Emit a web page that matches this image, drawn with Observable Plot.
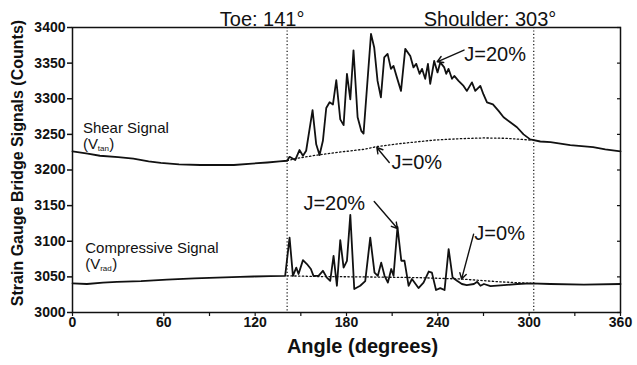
<!DOCTYPE html>
<html><head><meta charset="utf-8">
<script src="https://cdn.jsdelivr.net/npm/d3@7"></script>
<script src="https://cdn.jsdelivr.net/npm/@observablehq/plot@0.6"></script>
<style>
body{margin:0;background:#fff}
svg g[aria-label="y-axis tick label"], svg g[aria-label="x-axis tick label"] {font-weight:bold;font-size:14px}
</style>
</head><body><div id="chart"></div>
<script>
// Shear signal, J=20% (solid)
const shearAngle = [0,10,18,30,40,50,58,70,84,95,106,118,128,136,141,142.6,146.3,149.1,151.4,153.5,157.7,160.1,162.3,164.5,166.7,168.9,171.1,173.3,175.9,178.1,180.3,182.5,184.6,187.3,189.7,191.2,196.1,198.2,200.4,202.6,204.8,207,209.2,210.9,213.1,215.8,218.6,221.9,224,225.8,228,229.6,231.7,233.5,235,237.6,239.8,241.6,244.2,245.5,247,249.3,250.8,253.6,256.9,259.1,262.4,264.6,267.9,270,272.3,276.2,279.9,283.2,287.6,292,296.3,300.7,307.3,314,327,342,350,360];
const shearValue = [3226,3223,3220,3218,3216,3212,3210,3208,3207,3207,3207,3209,3210.5,3212,3213,3218.5,3214,3228,3220,3227,3284,3236,3221,3241,3287,3295,3292,3326,3271,3263,3335,3299,3368,3274,3255,3251,3391,3372,3325,3302,3358,3363,3342,3346,3330,3311,3370,3360,3344,3349,3335,3342,3328,3349,3321,3353,3337,3351,3344,3335,3342,3328,3332,3325,3318,3311,3323,3311,3318,3306,3295,3292,3283,3274,3267,3260,3250,3243,3240,3239,3235,3232,3229,3226];
// Shear signal, J=0% (dotted)
const shearZeroAngle = [141,146.3,160.8,175,191.2,200.2,215,237.4,255,270.3,285,301];
const shearZeroValue = [3213,3216,3221,3225,3229,3233,3237,3242,3244,3245,3244.5,3242];
// Compressive signal, J=20% (solid)
const compAngle = [0,9.5,20,29.2,45,62,80,94.9,110,119,130,139.7,142.6,144.8,147,148.5,151.4,154,156.6,158.3,161.6,164.5,167.1,169.3,171.5,173.7,175.9,178.1,180.3,182.5,185.1,189,192.3,195.6,198.4,200.6,202.8,205,207.2,209.4,210.9,213.5,216,218.1,220.8,223,227.3,230.6,234,236.1,238.8,241.6,244.4,247.1,249.7,252.6,255.8,259,263.7,265.9,268,270.3,274.6,283.4,292.2,300.9,314,336,360];
const compValue = [3041,3040,3042,3043,3044,3046,3048,3049,3050,3050.5,3051,3051.5,3105,3051.5,3063,3054,3073.5,3068,3061,3051.5,3051.5,3058.5,3049,3044.5,3079.6,3037.5,3101.6,3063,3072.6,3137,3033,3037.5,3044,3105,3056,3051.5,3070,3051.5,3042,3061,3051.5,3120,3072.6,3072.6,3037.5,3047,3034.3,3042,3057.5,3056,3031.5,3034.3,3031.5,3089,3049,3044.5,3040,3038.4,3040,3043,3037.5,3040,3037,3038.4,3040,3041,3040,3039,3040];
// Compressive signal, J=0% (dotted)
const compZeroAngle = [141,160.8,190,226.4,255,281.2,301];
const compZeroValue = [3051.5,3050.5,3050,3049,3047,3043,3041];

const markerAngles = [141, 303];
const xTicks = d3.range(0, 361, 30);
const yTicks = d3.range(3000, 3401, 50);

// Annotation texts and anchors (data units)
const topLabels = ["Toe: 141\u00b0", "Shoulder: 303\u00b0"];
const topLabelX = [152.4, 317.8];
const topLabelY = [3402.4, 3402.4];

const noteLabels = ["Shear Signal", "(V", ")", "Compressive Signal", "(V", ")"];
const noteX = [6.84, 6.84, 24.1, 8.35, 8.35, 26.1];
const noteY = [3252.2, 3229.8, 3229.8, 3083.8, 3061.3, 3061.3];

const subLabels = ["tan", "rad"];
const subX = [16.57, 18.2];
const subY = [3226.9, 3057.8];

const jLabels = ["J=20%", "J=0%", "J=20%", "J=0%"];
const jX = [257.4, 209.6, 151.7, 264.0];
const jY = [3353.3, 3201.7, 3144.1, 3102.0];

const arrowX1 = [257.2, 208.1, 198.2, 263.5];
const arrowY1 = [3368.3, 3210.5, 3155.8, 3110.0];
const arrowX2 = [239.6, 199.9, 213.5, 255.6];
const arrowY2 = [3351.9, 3231.6, 3117.9, 3046.9];

const zip = (xs, ys) => xs.map((a, i) => ({a, v: ys[i]}));
const shear = zip(shearAngle, shearValue);
const shearZero = zip(shearZeroAngle, shearZeroValue);
const comp = zip(compAngle, compValue);
const compZero = zip(compZeroAngle, compZeroValue);
const tops = topLabels.map((t, i) => ({t, x: topLabelX[i], y: topLabelY[i]}));
const notes = noteLabels.map((t, i) => ({t, x: noteX[i], y: noteY[i]}));
const subs = subLabels.map((t, i) => ({t, x: subX[i], y: subY[i]}));
const jl = jLabels.map((t, i) => ({t, x: jX[i], y: jY[i]}));
const arrows = arrowX1.map((d, i) => ({x1: d, y1: arrowY1[i], x2: arrowX2[i], y2: arrowY2[i]}));

const ink = "#111";
const chart = Plot.plot({
  width: 637, height: 365,
  marginLeft: 72, marginRight: 17, marginTop: 27, marginBottom: 53,
  x: {domain: [0, 360]},
  y: {domain: [3000, 3400]},
  style: {fontFamily: "'Liberation Sans', Arial, sans-serif", color: ink, background: "#fff", overflow: "visible"},
  marks: [
    Plot.ruleX(markerAngles, {stroke: ink, strokeDasharray: "1.2,2.2", strokeWidth: 1.2}),
    Plot.frame({stroke: ink, strokeWidth: 1.5}),
    Plot.axisY({anchor: "left", ticks: yTicks, tickSize: 5, tickPadding: 2, fontSize: 14, fontWeight: "bold", tickFormat: d => String(d), label: null, strokeWidth: 1.5}),
    Plot.axisY({anchor: "right", ticks: yTicks, tickSize: -4, tickFormat: () => "", label: null, strokeWidth: 1.2}),
    Plot.axisX({ticks: xTicks, tickSize: 4, tickPadding: 1, fontSize: 14, fontWeight: "bold", tickFormat: d => d % 60 === 0 ? String(d) : "", label: null, strokeWidth: 1.2}),
    Plot.line(shearZero, {x: "a", y: "v", stroke: ink, strokeWidth: 1.3, strokeDasharray: "1.4,2.4"}),
    Plot.line(compZero, {x: "a", y: "v", stroke: ink, strokeWidth: 1.3, strokeDasharray: "1.4,2.4"}),
    Plot.line(shear, {x: "a", y: "v", stroke: ink, strokeWidth: 1.8}),
    Plot.line(comp, {x: "a", y: "v", stroke: ink, strokeWidth: 1.8}),
    Plot.arrow(arrows, {x1: "x1", y1: "y1", x2: "x2", y2: "y2", stroke: ink, strokeWidth: 1.4, headLength: 7}),
    Plot.text(tops, {x: "x", y: "y", text: "t", textAnchor: "end", lineAnchor: "bottom", fontSize: 20, fill: ink}),
    Plot.text(notes, {x: "x", y: "y", text: "t", textAnchor: "start", lineAnchor: "bottom", fontSize: 15, fill: ink}),
    Plot.text(subs, {x: "x", y: "y", text: "t", textAnchor: "start", lineAnchor: "bottom", fontSize: 8, fill: ink}),
    Plot.text(jl, {x: "x", y: "y", text: "t", textAnchor: "start", lineAnchor: "bottom", fontSize: 20, fill: ink}),
    Plot.text(["Strain Gauge Bridge Signals (Counts)"], {frameAnchor: "left", textAnchor: "middle", lineAnchor: "middle", dx: -55, dy: -7, rotate: -90, fontSize: 16, fontWeight: "bold", fill: ink}),
    Plot.text(["Angle (degrees)"], {frameAnchor: "bottom", textAnchor: "middle", dx: 16, dy: 40, lineAnchor: "bottom", fontSize: 20, fontWeight: "bold", fill: ink})
  ]
});
document.getElementById("chart").appendChild(chart);
</script>
</body></html>
